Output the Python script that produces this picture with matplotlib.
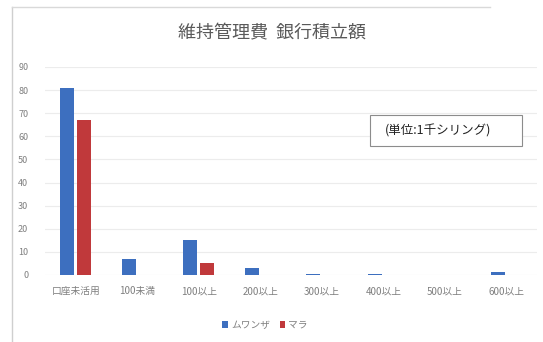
import matplotlib.pyplot as plt
import matplotlib as mpl
import numpy as np
from matplotlib.lines import Line2D
from matplotlib.patches import Rectangle

plt.rcParams['font.family'] = ['Noto Sans CJK JP', 'DejaVu Sans']

# 維持管理費の銀行積立額（単位：1千シリング）
categories = ['口座未活用', '100未満', '100以上', '200以上', '300以上', '400以上', '500以上', '600以上']
mwanza = [81, 7, 15, 3, 0.5, 0.5, 0, 1.5]
mara = [67, 0, 5, 0, 0, 0, 0, 0]

blue = '#3d6fbf'
red = '#c0393b'
gray = '#7f7f7f'

fig = plt.figure(figsize=(5.43, 3.42), dpi=100)
ax = fig.add_axes([45/543, 1-275/342, (537-45)/543, (275-67)/342])

x = np.arange(len(categories))
w = 0.23
ax.bar(x - 0.14, mwanza, w, color=blue, label='ムワンザ', zorder=3)
ax.bar(x + 0.14, mara, w, color=red, label='マラ', zorder=3)

ax.set_xlim(-0.5, 7.5)
ax.set_ylim(0, 90)
ax.set_yticks(np.arange(0, 91, 10))
ax.set_xticks(x)
ax.set_xticklabels(categories, fontsize=7, color=gray)
ax.tick_params(axis='y', labelsize=6.5, colors=gray, length=0, pad=12)
ax.tick_params(axis='x', length=0, pad=8)
ax.grid(axis='y', color='#ececec', lw=0.8, zorder=0)
for s in ax.spines.values():
    s.set_visible(False)

fig.text(272/543, 1-33/342, '維持管理費  銀行積立額', ha='center', va='center',
         fontsize=13, color='#595959')

# 単位の注記
fig.add_artist(Rectangle((370/543, 1-146/342), 152/543, 31/342, transform=fig.transFigure,
                         fc='white', ec='#8c8c8c', lw=0.8, zorder=4))
fig.text(438/543, 1-131/342, '(単位:1千シリング)', ha='center', va='center',
         fontsize=9, color='#222222', zorder=5)

ax.legend(loc='center', bbox_to_anchor=(265/543, 1-325/342), bbox_transform=fig.transFigure,
          ncol=2, frameon=False, fontsize=7, labelcolor=gray,
          handlelength=0.6, handleheight=0.6, handletextpad=0.3, columnspacing=1.0)

# 外枠の線
fig.add_artist(Line2D([12/543, 12/543], [0, 1-7/342], color='#cfcfcf', lw=1))
fig.add_artist(Line2D([12/543, 490/543], [1-7/342, 1-7/342], color='#d9d9d9', lw=1))

fig.savefig('out.png', dpi=100)
